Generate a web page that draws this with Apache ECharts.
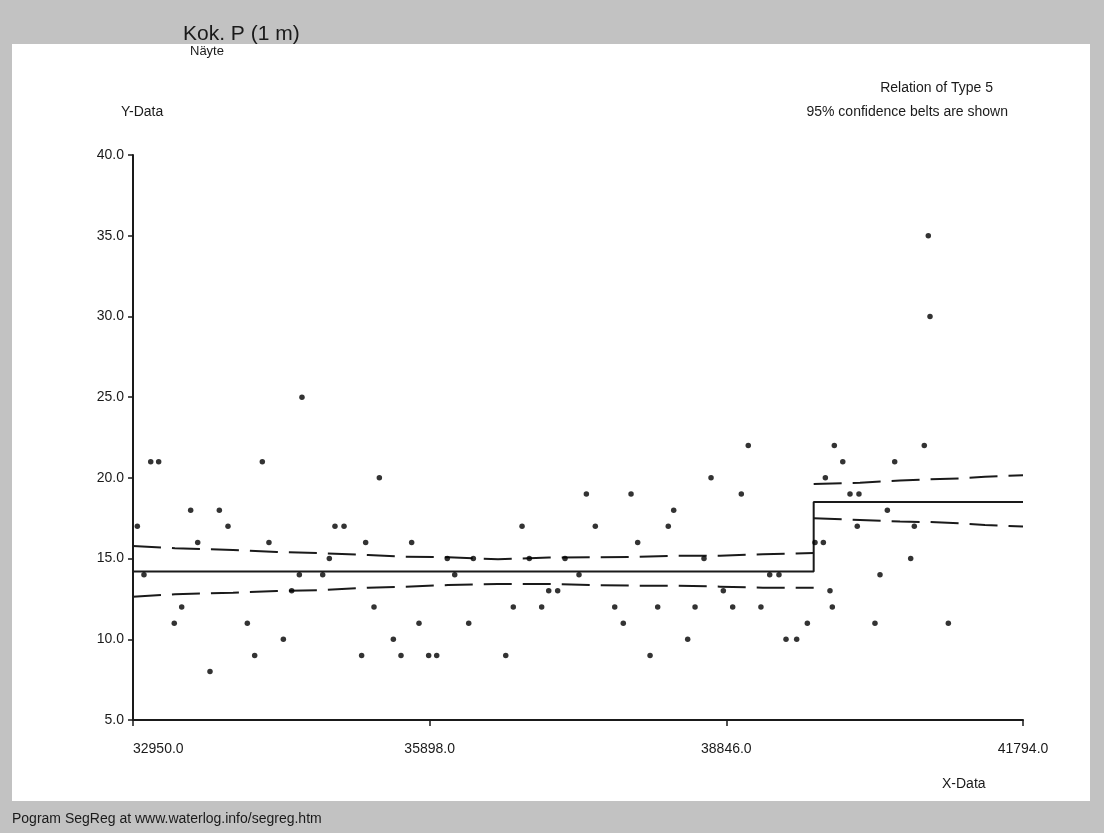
<!DOCTYPE html>
<html>
<head>
<meta charset="utf-8">
<script src="https://cdn.jsdelivr.net/npm/echarts@6/dist/echarts.min.js"></script>
<style>
  html, body { margin: 0; padding: 0; background: #c2c2c2; }
  #chart { width: 1104px; height: 833px; }
</style>
</head>
<body>
<div id="chart"></div>
<script>
// Observations: [x, y]
const samples = [
  [32993,17],[33059,14],[33126,21],[33205,21],[33360,11],[33434,12],[33523,18],[33593,16],
  [33715,8],[33808,18],[33894,17],[34086,11],[34159,9],[34235,21],[34301,16],[34444,10],
  [34527,13],[34603,14],[34629,25],[34835,14],[34901,15],[34957,17],[35047,17],[35222,9],
  [35262,16],[35345,12],[35398,20],[35537,10],[35613,9],[35719,16],[35792,11],[35888,9],
  [35968,9],[36073,15],[36147,14],[36286,11],[36332,15],[36654,9],[36729,12],[36816,17],
  [36888,15],[37011,12],[37081,13],[37170,13],[37243,15],[37382,14],[37455,19],[37544,17],
  [37737,12],[37822,11],[37899,19],[37965,16],[38088,9],[38164,12],[38269,17],[38323,18],
  [38462,10],[38535,12],[38624,15],[38694,20],[38816,13],[38909,12],[38995,19],[39064,22],
  [39190,12],[39277,14],[39369,14],[39439,10],[39545,10],[39651,11],[39727,16],[39810,16],
  [39830,20],[39876,13],[39899,12],[39919,22],[40003,21],[40075,19],[40147,17],[40164,19],
  [40323,11],[40373,14],[40446,18],[40519,21],[40678,15],[40714,17],[40813,22],[40853,35],
  [40870,30],[41052,11]
];

// Segmented regression (type 5: two horizontal levels with a jump at the breakpoint)
const breakX = 39714;
const fitLevels = [14.2, 18.5];
const xMin = 32950, xMax = 41794;

// 95% confidence belts, segment 1 (left of breakpoint)
const beltX1     = [32950, 33367, 33944, 34381, 34838, 35285, 35653, 36080, 36577, 37084, 37521, 37938, 38356, 38783, 39210, 39714];
const beltUpper1 = [15.78, 15.64, 15.53, 15.41, 15.33, 15.22, 15.12, 15.08, 14.96, 15.06, 15.08, 15.10, 15.18, 15.18, 15.27, 15.35];
const beltLower1 = [12.64, 12.79, 12.89, 12.99, 13.05, 13.20, 13.26, 13.36, 13.43, 13.43, 13.36, 13.32, 13.32, 13.26, 13.20, 13.20];

// 95% confidence belts, segment 2 (right of breakpoint)
const beltX2     = [39714, 40174, 40572, 40870, 41168, 41416, 41794];
const beltUpper2 = [19.62, 19.70, 19.83, 19.91, 19.97, 20.07, 20.16];
const beltLower2 = [17.50, 17.39, 17.29, 17.26, 17.18, 17.08, 16.98];

// Axis ticks
const xTicks = [32950, 35898, 38846, 41794];

const FONT = 'Liberation Sans, Arial, sans-serif';
const INK = '#1a1a1a';

const zip = (xs, ys) => xs.map((x, i) => [x, ys[i]]);
const fitLine = [
  [xMin, fitLevels[0]], [breakX, fitLevels[0]],
  [breakX, fitLevels[1]], [xMax, fitLevels[1]]
];

const dashed = { color: INK, width: 2, type: [28, 11] };

const chart = echarts.init(document.getElementById('chart'), null, { renderer: 'canvas' });
chart.setOption({
  backgroundColor: '#c2c2c2',
  animation: false,
  textStyle: { fontFamily: FONT },
  graphic: [
    { type: 'rect', z: -10, shape: { x: 12, y: 44, width: 1078, height: 757 }, style: { fill: '#ffffff' } },
    { type: 'text', left: 183, top: 24, style: { text: 'Kok. P (1 m)', font: '21px ' + FONT, fill: INK } },
    { type: 'text', left: 190, top: 45, style: { text: 'Näyte', font: '13px ' + FONT, fill: INK } },
    { type: 'text', right: 1104 - 993, top: 81, style: { text: 'Relation of Type 5', font: '14px ' + FONT, fill: INK } },
    { type: 'text', right: 1104 - 1008, top: 105, style: { text: '95% confidence belts are shown', font: '14px ' + FONT, fill: INK } },
    { type: 'text', left: 121, top: 105, style: { text: 'Y-Data', font: '14px ' + FONT, fill: INK } },
    { type: 'text', left: 942, top: 777, style: { text: 'X-Data', font: '14px ' + FONT, fill: INK } },
    { type: 'text', left: 12, top: 812, style: { text: 'Pogram SegReg at www.waterlog.info/segreg.htm', font: '14px ' + FONT, fill: INK } }
  ],
  grid: { left: 133, top: 155, width: 890, height: 565, containLabel: false },
  xAxis: {
    type: 'value',
    min: xMin,
    max: xMax,
    splitLine: { show: false },
    axisLine: { show: true, onZero: false, lineStyle: { color: INK, width: 2 } },
    axisTick: { show: true, length: 6, lineStyle: { color: INK, width: 1.5 }, customValues: xTicks },
    axisLabel: {
      customValues: xTicks,
      margin: 22,
      color: INK,
      fontSize: 14,
      fontFamily: FONT,
      alignMinLabel: 'left',
      formatter: v => v.toFixed(1)
    }
  },
  yAxis: {
    type: 'value',
    min: 5,
    max: 40,
    interval: 5,
    splitLine: { show: false },
    axisLine: { show: true, onZero: false, lineStyle: { color: INK, width: 2 } },
    axisTick: { show: true, length: 5, lineStyle: { color: INK, width: 1.5 } },
    axisLabel: { margin: 9, color: INK, fontSize: 14, fontFamily: FONT, formatter: v => v.toFixed(1) }
  },
  series: [
    { type: 'line', data: fitLine, showSymbol: false, lineStyle: { color: INK, width: 2 }, z: 3 },
    { type: 'line', data: zip(beltX1, beltUpper1), showSymbol: false, lineStyle: dashed, z: 3 },
    { type: 'line', data: zip(beltX1, beltLower1), showSymbol: false, lineStyle: dashed, z: 3 },
    { type: 'line', data: zip(beltX2, beltUpper2), showSymbol: false, lineStyle: dashed, z: 3 },
    { type: 'line', data: zip(beltX2, beltLower2), showSymbol: false, lineStyle: dashed, z: 3 },
    { type: 'scatter', data: samples, symbol: 'circle', symbolSize: 5.5, itemStyle: { color: '#000' }, z: 5 }
  ]
});
</script>
</body>
</html>
